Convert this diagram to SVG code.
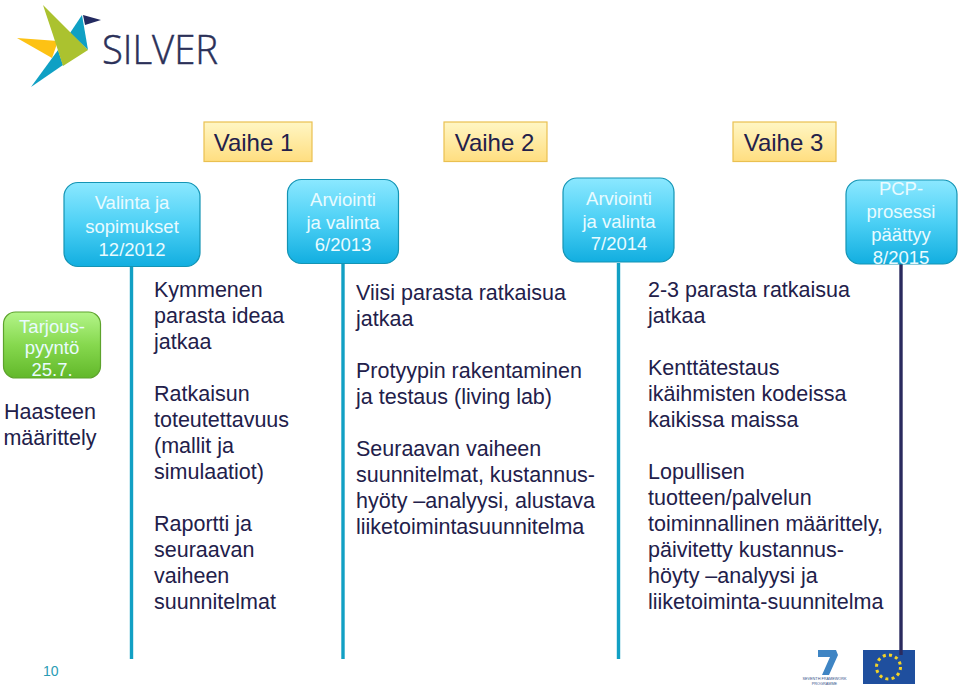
<svg xmlns="http://www.w3.org/2000/svg" width="960" height="690" viewBox="0 0 960 690">
<style>
text{font-family:"Liberation Sans",Arial,sans-serif}
.t{font-size:21.5px;fill:#22204a}
.p{font-size:24px;fill:#22204a;text-anchor:middle}
.w{font-size:18.5px;fill:#e9fbff;text-anchor:middle}
.h{font-size:21.5px;fill:#22204a;text-anchor:middle}
.b{fill:url(#blue);stroke:#1494b4;stroke-width:1.2}
.g{fill:url(#green);stroke:#5da32c;stroke-width:1.2}
.y{fill:url(#yel);stroke:#eac050;stroke-width:1.2}
.l{stroke:#12a0c4;stroke-width:3.4;fill:none}
</style>
<defs>
<linearGradient id="blue" x1="0" y1="0" x2="0" y2="1"><stop offset="0" stop-color="#8be8ff"/><stop offset="0.5" stop-color="#4cd0f5"/><stop offset="1" stop-color="#12aee0"/></linearGradient>
<linearGradient id="green" x1="0" y1="0" x2="0" y2="1"><stop offset="0" stop-color="#b4f58a"/><stop offset="0.5" stop-color="#86d84e"/><stop offset="1" stop-color="#62b82a"/></linearGradient>
<linearGradient id="yel" x1="0" y1="0" x2="0" y2="1"><stop offset="0" stop-color="#fff6c4"/><stop offset="1" stop-color="#ffde80"/></linearGradient>
</defs>
<g id="logo">
<polygon points="17,38 58,41 52,58" fill="#fdc214"/>
<polygon points="58,50 63,65 31,87" fill="#0fa0c4"/>
<polygon points="82,15 88,50 70,33" fill="#0fa0c4"/>
<polygon points="43,5 88,50 63,66 53,35" fill="#abc22f"/>
<polygon points="83,15 101,20 85,25" fill="#232a60"/>
<text x="102" y="64" font-size="40" font-weight="300" stroke="#2b3058" stroke-width="0.5" style="font-family:'Open Sans','Liberation Sans',sans-serif" fill="#2b3058" textLength="116" lengthAdjust="spacingAndGlyphs">SILVER</text>
</g>
<g id="footer">
<text x="43" y="676" font-size="14" fill="#2a9cb4">10</text>
<polygon points="818,650 836,650 838,655 829,675 822,675 830,657 818,657" fill="#3f85c4"/>
<text x="824.500" y="680" font-size="3.800" fill="#33528a" text-anchor="middle">SEVENTH FRAMEWORK</text>
<text x="824.500" y="684.500" font-size="3.800" fill="#33528a" text-anchor="middle">PROGRAMME</text>
<rect x="863" y="650" width="52" height="34" fill="#1f4f9e"/>
<circle cx="888.500" cy="667" r="12" fill="none" stroke="#f3d327" stroke-width="3" stroke-dasharray="3 3.300"/>
</g>
<g id="connectors">
<path class="l" d="M131.500 266V659"/>
<path class="l" d="M343 264V659"/>
<path class="l" d="M618.500 263V659"/>
<path d="M901 264V655" stroke="#2a2a5e" stroke-width="3.400" fill="none"/>
</g>
<g id="vaihe1"><rect class="y" x="204" y="122" width="108" height="39.500"/><text class="p" x="253.500" y="150.500">Vaihe 1</text></g>
<g id="vaihe2"><rect class="y" x="444" y="122" width="103" height="39.500"/><text class="p" x="494.500" y="150.500">Vaihe 2</text></g>
<g id="vaihe3"><rect class="y" x="733" y="122" width="103" height="39.500"/><text class="p" x="783.500" y="150.500">Vaihe 3</text></g>
<g id="valinta"><rect class="b" x="64" y="182.500" width="136" height="84" rx="14"/><text class="w" x="132" y="209">Valinta ja</text><text class="w" x="132" y="232.500">sopimukset</text><text class="w" x="132" y="255.500">12/2012</text></g>
<g id="arviointi1"><rect class="b" x="287.500" y="179.500" width="111" height="84" rx="14"/><text class="w" x="343" y="206">Arviointi</text><text class="w" x="343" y="229">ja valinta</text><text class="w" x="343" y="251">6/2013</text></g>
<g id="arviointi2"><rect class="b" x="563" y="178" width="111" height="84" rx="14"/><text class="w" x="619" y="205">Arviointi</text><text class="w" x="619" y="227.500">ja valinta</text><text class="w" x="619" y="250">7/2014</text></g>
<g id="pcp"><rect class="b" x="846" y="180" width="111" height="84" rx="14"/><text class="w" x="901" y="195">PCP-</text><text class="w" x="901" y="218">prosessi</text><text class="w" x="901" y="241">päättyy</text><text class="w" x="901" y="263.500">8/2015</text></g>
<g id="tarjous"><rect class="g" x="3.500" y="312" width="97" height="66" rx="12"/><text class="w" x="52" y="333">Tarjous-</text><text class="w" x="52" y="353.500">pyyntö</text><text class="w" x="52" y="376">25.7.</text></g>
<g id="haasteen"><text class="h" x="50" y="419">Haasteen</text><text class="h" x="50" y="445">määrittely</text></g>
<g id="col1"><text class="t" x="154" y="297">Kymmenen</text><text class="t" x="154" y="323">parasta ideaa</text><text class="t" x="154" y="349">jatkaa</text><text class="t" x="154" y="401">Ratkaisun</text><text class="t" x="154" y="427">toteutettavuus</text><text class="t" x="154" y="453">(mallit ja</text><text class="t" x="154" y="479">simulaatiot)</text><text class="t" x="154" y="531">Raportti ja</text><text class="t" x="154" y="557">seuraavan</text><text class="t" x="154" y="583">vaiheen</text><text class="t" x="154" y="609">suunnitelmat</text></g>
<g id="col2"><text class="t" x="356" y="300">Viisi parasta ratkaisua</text><text class="t" x="356" y="326">jatkaa</text><text class="t" x="356" y="378">Protyypin rakentaminen</text><text class="t" x="356" y="404">ja testaus (living lab)</text><text class="t" x="356" y="456">Seuraavan vaiheen</text><text class="t" x="356" y="482">suunnitelmat, kustannus-</text><text class="t" x="356" y="508">hyöty –analyysi, alustava</text><text class="t" x="356" y="534">liiketoimintasuunnitelma</text></g>
<g id="col3"><text class="t" x="648" y="297">2-3 parasta ratkaisua</text><text class="t" x="648" y="323">jatkaa</text><text class="t" x="648" y="375">Kenttätestaus</text><text class="t" x="648" y="401">ikäihmisten kodeissa</text><text class="t" x="648" y="427">kaikissa maissa</text><text class="t" x="648" y="479">Lopullisen</text><text class="t" x="648" y="505">tuotteen/palvelun</text><text class="t" x="648" y="531">toiminnallinen määrittely,</text><text class="t" x="648" y="557">päivitetty kustannus-</text><text class="t" x="648" y="583">höyty –analyysi ja</text><text class="t" x="648" y="609">liiketoiminta-suunnitelma</text></g>
</svg>
